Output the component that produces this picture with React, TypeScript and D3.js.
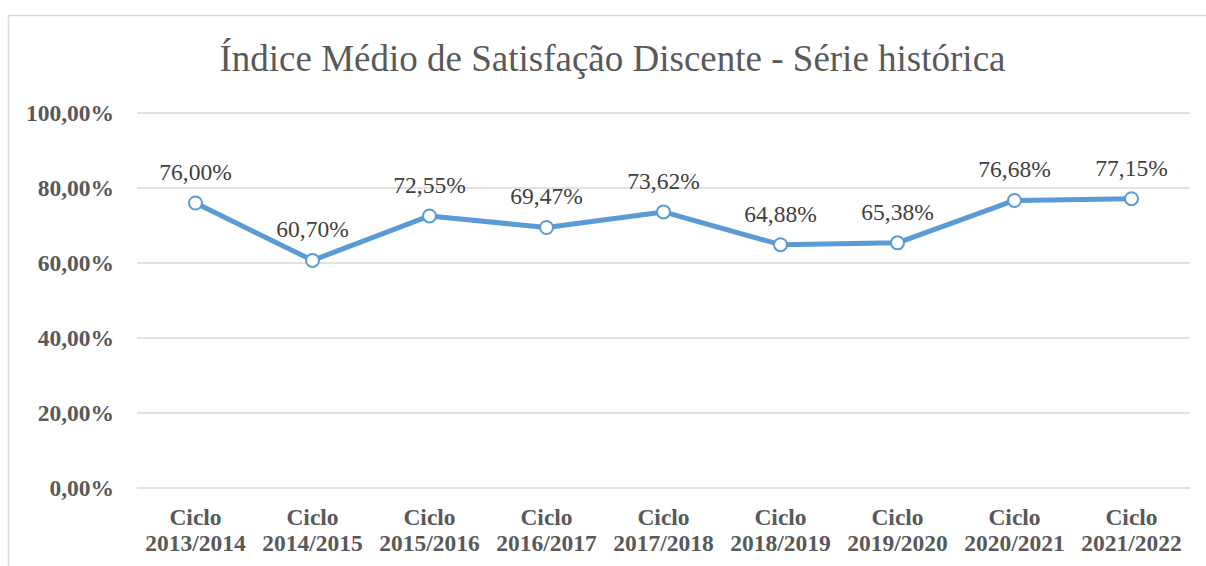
import React from "react";
import * as d3 from "d3";

const categories = [
  ["Ciclo", "2013/2014"],
  ["Ciclo", "2014/2015"],
  ["Ciclo", "2015/2016"],
  ["Ciclo", "2016/2017"],
  ["Ciclo", "2017/2018"],
  ["Ciclo", "2018/2019"],
  ["Ciclo", "2019/2020"],
  ["Ciclo", "2020/2021"],
  ["Ciclo", "2021/2022"],
];
const values = [76.0, 60.7, 72.55, 69.47, 73.62, 64.88, 65.38, 76.68, 77.15];
const yTicks = [0, 20, 40, 60, 80, 100];
const title = "Índice Médio de Satisfação Discente - Série histórica";

const W = 1206;
const H = 566;
const FONT = "Liberation Serif";
const fmt = (v: number) => v.toFixed(2).replace(".", ",") + "%";

export default function App() {
  const x = d3
    .scaleBand<number>()
    .domain(values.map((_, i) => i))
    .range([137, 1190]);
  const y = d3.scaleLinear().domain([0, 100]).range([488, 113]);
  const cx = (i: number) => (x(i) as number) + x.bandwidth() / 2;
  const line = d3
    .line<number>()
    .x((_, i) => cx(i))
    .y((d) => y(d));
  return (
    <svg width={W} height={H} style={{ position: "absolute", left: 0, top: 0, background: "#fff" }}>
      <rect x={8.5} y={15.5} width={1300} height={700} fill="#fff" stroke="#d9d9d9" strokeWidth={1.5} />
      <text x={612.5} y={71} textAnchor="middle" fontFamily={FONT} fontSize={37} fill="#595959">
        {title}
      </text>
      {yTicks.map((t) => (
        <g key={t}>
          <line x1={137} x2={1190} y1={y(t)} y2={y(t)} stroke="#d9d9d9" strokeWidth={1.5} />
          <text x={114} y={y(t) + 8} textAnchor="end" fontFamily={FONT} fontSize={23.5} fontWeight="bold" fill="#595959">
            {fmt(t)}
          </text>
        </g>
      ))}
      {categories.map((c, i) => (
        <text key={i} textAnchor="middle" fontFamily={FONT} fontSize={23.5} fontWeight="bold" fill="#595959">
          <tspan x={cx(i)} y={525}>{c[0]}</tspan>
          <tspan x={cx(i)} y={551}>{c[1]}</tspan>
        </text>
      ))}
      <path d={line(values) || ""} fill="none" stroke="#5B9BD5" strokeWidth={5} strokeLinejoin="round" />
      {values.map((v, i) => (
        <g key={i}>
          <circle cx={cx(i)} cy={y(v)} r={6.5} fill="#fff" stroke="#5B9BD5" strokeWidth={2} />
          <text x={cx(i)} y={y(v) - 23} textAnchor="middle" fontFamily={FONT} fontSize={23.5} fill="#404040">
            {fmt(v)}
          </text>
        </g>
      ))}
    </svg>
  );
}
